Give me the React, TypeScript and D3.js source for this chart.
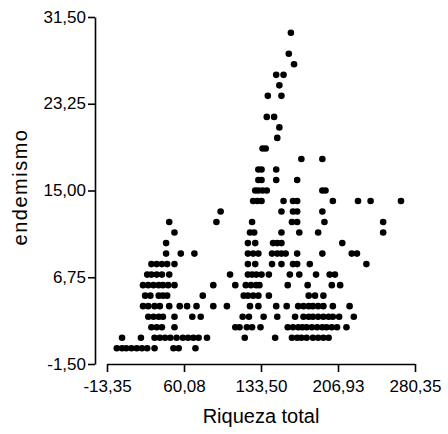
import React, { useEffect, useRef } from 'react';
import * as d3 from 'd3';

// riqueza total of each site, grouped by endemismo (index = endemismo)
const riquezaByEndemismo: number[][] = [
  [-4, 1, 5, 10, 15, 20, 25, 32, 50, 55, 71],
  [1, 19, 32, 37, 42, 47, 53, 59, 64, 69, 74, 82, 118, 147, 163, 168, 172, 177, 183, 188, 193, 198],
  [29, 34, 39, 51, 109, 113, 120, 125, 133, 159, 164, 169, 173, 177, 182, 187, 192, 196, 201, 206, 215],
  [26, 31, 36, 40, 51, 68, 76, 116, 122, 136, 149, 166, 174, 179, 183, 188, 193, 198, 202, 208, 222],
  [21, 26, 32, 37, 46, 56, 63, 72, 88, 101, 123, 131, 148, 158, 169, 174, 179, 183, 188, 193, 202, 218],
  [23, 28, 36, 40, 44, 78, 117, 121, 126, 131, 141, 179, 185, 193],
  [21, 26, 31, 36, 40, 45, 51, 88, 109, 119, 124, 129, 132, 159, 178, 201, 209],
  [25, 29, 34, 39, 46, 104, 121, 125, 129, 134, 141, 161, 170, 186, 199, 204],
  [29, 34, 39, 44, 51, 121, 128, 144, 153, 164, 168, 180, 234],
  [43, 57, 70, 121, 126, 131, 144, 149, 153, 157, 168, 192, 220, 225],
  [43, 121, 128, 145, 149, 153, 211],
  [51, 123, 127, 153, 170, 188, 250],
  [46, 91, 125, 163, 168, 194, 250],
  [95, 153, 164, 168, 192],
  [126, 130, 134, 155, 164, 168, 202, 226, 238, 267],
  [128, 131, 135, 139, 192, 195],
  [131, 134, 148, 168],
  [131, 134, 148],
  [172, 192],
  [135, 138],
  [149],
  [151],
  [139, 146],
  [],
  [140, 153],
  [151],
  [148, 155],
  [165],
  [160],
  [],
  [162],
];

const xTicks = [-13.35, 60.08, 133.5, 206.93, 280.35];
const yTicks = [-1.5, 6.75, 15, 23.25, 31.5];

const fmt = (v: number) => v.toFixed(2).replace('.', ',');

export default function App() {
  const ref = useRef<SVGSVGElement>(null);

  useEffect(() => {
    const svg = d3.select(ref.current);
    svg.selectAll('*').remove();

    const font = "Arial, 'Liberation Sans', sans-serif";
    const x = d3.scaleLinear().domain([-13.35, 280.35]).range([107, 415]);
    const y = d3.scaleLinear().domain([-1.5, 31.5]).range([364, 17]);

    const points: { r: number; e: number }[] = [];
    riquezaByEndemismo.forEach((row, e) => row.forEach(r => points.push({ r, e })));

    // y axis
    const yAxis = svg.append('g')
      .attr('transform', 'translate(95,0)')
      .call(d3.axisLeft(y).tickValues(yTicks).tickFormat(d => fmt(+d)).tickSize(7).tickPadding(2).tickSizeOuter(0));
    yAxis.select('.domain').attr('stroke', '#000').attr('stroke-width', 1.6);
    yAxis.selectAll('.tick line').attr('stroke', '#000').attr('stroke-width', 1.6);
    yAxis.selectAll('.tick text')
      .attr('font-size', 17).attr('font-family', font).attr('fill', '#000').attr('dy', '0.3em');

    // x axis
    const xAxis = svg.append('g')
      .attr('transform', 'translate(0,364)')
      .call(d3.axisBottom(x).tickValues(xTicks).tickFormat(d => fmt(+d)).tickSize(8).tickPadding(8).tickSizeOuter(0));
    xAxis.select('.domain').attr('stroke', '#000').attr('stroke-width', 1.6);
    xAxis.selectAll('.tick line').attr('stroke', '#000').attr('stroke-width', 1.6);
    xAxis.selectAll('.tick text')
      .attr('font-size', 17).attr('font-family', font).attr('fill', '#000');

    svg.append('g')
      .selectAll('circle')
      .data(points)
      .enter()
      .append('circle')
      .attr('cx', d => x(d.r))
      .attr('cy', d => y(d.e))
      .attr('r', 3.3)
      .attr('fill', '#000');

    svg.append('text')
      .attr('x', 261)
      .attr('y', 423)
      .attr('text-anchor', 'middle')
      .attr('font-size', 20)
      .attr('font-family', font)
      .text('Riqueza total');

    svg.append('text')
      .attr('transform', 'translate(27,187)rotate(-90)')
      .attr('text-anchor', 'middle')
      .attr('font-size', 20)
      .attr('letter-spacing', 1.5)
      .attr('font-family', font)
      .text('endemismo');
  }, []);

  return (
    <svg ref={ref} width={448} height={434}
      style={{ position: 'absolute', left: 0, top: 0, background: '#fff' }} />
  );
}
